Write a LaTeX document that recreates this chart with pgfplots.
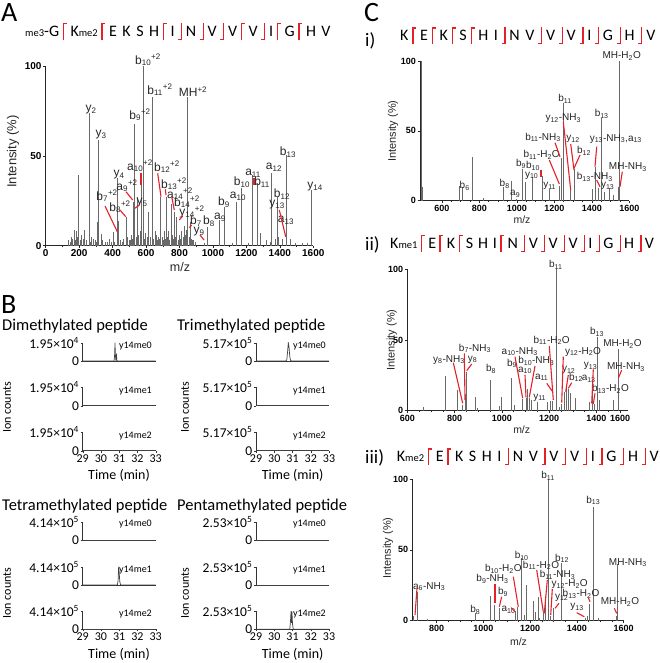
\documentclass[border=0pt]{standalone}
\usepackage{fontspec}
\setmainfont{Liberation Sans}
\newfontfamily\carlito{Carlito}
\usepackage{pgfplots}
\pgfplotsset{compat=1.18}
\definecolor{seqred}{RGB}{228,32,40}
\definecolor{peak}{RGB}{105,105,105}
\newlength\bk \setlength\bk{3.8pt}
\newlength\gp \setlength\gp{5.5pt}
\newcommand\bL{\kern\bk\textcolor{seqred}{\rule[-3.5pt]{1.3pt}{17pt}\kern-1.3pt\rule[12.2pt]{4pt}{1.3pt}}\kern\bk}
\newcommand\bR{\kern\bk\textcolor{seqred}{\rule[-3.5pt]{4pt}{1.3pt}\kern-1.3pt\rule[-3.5pt]{1.3pt}{17pt}}\kern\bk}
\newcommand\sm[1]{{\fontsize{10.5}{10.5}\selectfont #1}}
\newcommand\gap{\hspace{\gp}}
\pgfplotsset{
 spec/.style={scale only axis, axis lines=left, axis line style={-, black!85, line width=0.6pt},
   tick align=outside, tick style={black!85, line width=0.5pt}, major tick length=2.5pt, minor tick length=1.5pt,
   ymin=0, ymax=100, ytick={0,50,100}, scaled ticks=false,
   /pgf/number format/assume math mode=true, /pgf/number format/1000 sep={},
   tick label style={font=\bfseries\fontsize{9}{9}\selectfont, inner sep=1.5pt}},
 chrom/.style={scale only axis, width=73pt, height=18.3pt, axis lines=left,
   axis line style={-, black!80, line width=0.6pt}, xmin=29, xmax=33, ymin=0, ymax=1,
   ytick={0,1}, xtick=\empty, tick align=outside, major tick length=2pt, tick style={black!80},
   yticklabel style={font=\carlito\fontsize{13.5}{13.5}\selectfont, inner sep=1.5pt},
   /pgf/number format/assume math mode=true},
 bottomrow/.style={xtick={29,30,31,32,33}, xticklabel style={font=\carlito\fontsize{12}{12}\selectfont, inner sep=1.5pt}},
 trace/.style={black!75, line width=0.7pt, mark=none},
 bars/.style={ycomb, color=peak, line width=0.6pt, mark=none}
}
\newcommand\chromaxis[5]{%
\begin{axis}[chrom, at={(#1pt,-#2pt)}, anchor=south west, yticklabels={0,{#3}}, #4]
\addplot[trace] coordinates {#5};
\end{axis}}
\begin{document}
\begin{tikzpicture}
\path[use as bounding box] (0,0) rectangle (660pt,-663pt);

% ---------------- Panel A ----------------
\begin{axis}[spec, at={(45.7pt,-245.7pt)}, anchor=south west, width=267.6pt, height=179.7pt,
  xmin=0, xmax=1600, xtick={0,200,...,1600}, minor x tick num=1,
  tick label style={font=\bfseries\fontsize{10}{10}\selectfont}]
\addplot[bars] table {
x y
135 3.2
145 2
155 5
162 4
169 8.7
175 3
181 8
188 5
195 39.3
205 3
211 6
222 4
231 8.7
245 3
259 73.7
265 2
275 5
285 4
295 3
300 2
309 13
313 58.8
331 6.6
340 3
355 2
366 2
381 4
390 2
404 7.7
412 2
428 37.5
436 14
447 3
458 2
466 4
480 16
490 5
497 3
504 3
512 6
518 4
524 24.5
532 68
540 5
548 27
556 6
564 8
574 33.8
584 100
590 4
598 7
605 5
610 3
616 19
626 5
636 82.6
645 4
655 8
660 6
668 3
674 5
680 4
688 27
697 5
701 3
707 8
713 4
719 27
727 5
733 8
740 3
749 23
756 6
762 4
769 19
775 5
783 16
790 3
797 6
804 4
813 8
820 5
827 11
833 6
839 9
845 3
849 82.6
856 5
863 13
870 4
878 3
885 3
893 2
949 1.5
967 10.6
1038 14.3
1068 21.7
1117 1.5
1138 24.5
1168 32
1209 1.5
1238 39.3
1264 34.7
1282 7
1320 3
1342 2
1351 40.3
1375 4
1382 27
1391 5
1412 4
1437 50.5
1461 4
1490 1.5
1536 1.5
1566 1.5
1591 31
};
\end{axis}

% ---------------- Panel C i ----------------
\begin{axis}[spec, at={(420pt,-200.7pt)}, anchor=south west, width=209.3pt, height=139.7pt,
  xmin=484, xmax=1600, xtick={600,800,...,1600}, minor x tick num=3]
\addplot[bars] table {
x y
490 100
497 9.5
694 10.5
708 9.5
765 31.5
822 2
929 10
973 14.3
1000 1
1032 22.7
1044 13.6
1083 16.7
1137 17.9
1174 8.4
1226 10.5
1235 30.8
1249 70
1288 8.8
1306 23
1400 8.4
1418 24
1432 9.3
1448 59
1466 6.4
1494 9.3
1515 4
1543 10
1547 100
};
\end{axis}

% ---------------- Panel C ii ----------------
\begin{axis}[spec, at={(407.3pt,-410.7pt)}, anchor=south west, width=221pt, height=141.4pt,
  xmin=600, xmax=1535, xtick={600,800,1000,1200,1400,1500},
  xticklabels={600,800,1000,1200,1400,1600},
  minor xtick={650,700,750,850,900,950,1050,1100,1150,1250,1300,1350,1450}]
\addplot[bars] table {
x y
668 2.4
762 24.3
811 14.3
834 4
844 12
851 27.4
886 9.5
896 1.7
953 21.4
990 3.6
999 9.5
1041 23.3
1052 4.3
1088 8.3
1102 9
1109 15.5
1116 9
1126 7.6
1150 6
1192 6
1206 7.1
1215 7
1229 100
1243 2.4
1253 4.8
1263 13
1274 17
1281 15.5
1288 12.4
1309 9
1369 6
1384 19
1390 4.8
1403 52
1414 7.6
1471 7.9
1492 43.3
};
\end{axis}

% ---------------- Panel C iii ----------------
\begin{axis}[spec, at={(412.3pt,-620.7pt)}, anchor=south west, width=211.2pt, height=141.7pt,
  xmin=695.5, xmax=1600, xtick={800,1000,...,1600}, minor x tick num=3]
\addplot[bars] table {
x y
700 3
717 20.5
761 1
964 5.2
1028 17.6
1047 11
1068 9.2
1135 6.8
1147 9.4
1164 44
1175 4
1185 25.2
1214 14
1221 6
1235 16.5
1241 2
1257 6
1267 17.6
1278 100
1288 3
1299 9.2
1332 41
1435 2
1447 3
1454 12
1471 80.5
1492 2
1570 3
1573 40
};
\end{axis}

% ---------------- Panel B ----------------
\chromaxis{82.7}{361}{1.95×10\textsuperscript{4}}{}{(29,0) (30.72,0) (30.75,0.35) (30.77,1) (30.79,0.3) (30.82,0.05) (30.85,0.4) (30.87,0.05) (30.9,0) (33,0)}
\chromaxis{82.7}{405.7}{1.95×10\textsuperscript{4}}{}{(29,0) (33,0)}
\chromaxis{82.7}{450.7}{1.95×10\textsuperscript{4}}{bottomrow}{(29,0) (33,0)}
\chromaxis{256}{361}{5.17×10\textsuperscript{5}}{}{(29,0) (30.64,0) (30.69,0.08) (30.73,0.5) (30.77,1) (30.81,0.75) (30.85,0.25) (30.89,0.04) (30.94,0) (33,0)}
\chromaxis{256}{405.7}{5.17×10\textsuperscript{5}}{}{(29,0) (33,0)}
\chromaxis{256}{450.7}{5.17×10\textsuperscript{5}}{bottomrow}{(29,0) (33,0)}
\chromaxis{82.7}{540}{4.14×10\textsuperscript{5}}{}{(29,0) (33,0)}
\chromaxis{82.7}{585}{4.14×10\textsuperscript{5}}{}{(29,0) (30.9,0) (30.94,0.25) (30.97,1) (31.0,0.7) (31.03,0.2) (31.07,0.02) (31.1,0) (33,0)}
\chromaxis{82.7}{629.3}{4.14×10\textsuperscript{5}}{bottomrow}{(29,0) (33,0)}
\chromaxis{256}{540}{2.53×10\textsuperscript{5}}{}{(29,0) (33,0)}
\chromaxis{256}{585}{2.53×10\textsuperscript{5}}{}{(29,0) (33,0)}
\chromaxis{256}{629.3}{2.53×10\textsuperscript{5}}{bottomrow}{(29,0) (30.85,0) (30.89,0.45) (30.92,1) (30.94,0.35) (30.97,0.97) (31.0,0.3) (31.04,0.02) (31.09,0) (33,0)}

% ---------------- Annotations ----------------
\begin{scope}[x=1pt,y=-1pt]
% panel letters
\node[anchor=base west, inner sep=0pt, font=\carlito\fontsize{28}{28}\selectfont] at (1,21.7) {A};
\node[anchor=base west, inner sep=0pt, font=\carlito\fontsize{28}{28}\selectfont] at (1,313) {B};
\node[anchor=base west, inner sep=0pt, font=\carlito\fontsize{28}{28}\selectfont] at (364,21.7) {C};
\node[anchor=base west, inner sep=0pt, font=\carlito\fontsize{19}{19}\selectfont] at (365,47) {i)};
\node[anchor=base west, inner sep=0pt, font=\carlito\fontsize{19}{19}\selectfont] at (365,250) {ii)};
\node[anchor=base west, inner sep=0pt, font=\carlito\fontsize{19}{19}\selectfont] at (365,463) {iii)};

% sequences
\node[anchor=base west, inner sep=0pt, font=\carlito\fontsize{16}{16}\selectfont] at (25,36.7)
 {\setlength\bk{3.7pt}\setlength\gp{5.5pt}\sm{me3}-G\bL K\sm{me2}\bL E\gap K\gap S\gap H\bL I\bR N\bR V\bR V\bL V\bR I\bL G\bL H\gap V};
\node[anchor=base west, inner sep=0pt, font=\carlito\fontsize{16}{16}\selectfont] at (400,41)
 {K\bL E\bL K\bL S\bL H\gap I\bR N\gap V\bR V\bR V\bR I\bR G\bR H\bR V};
\node[anchor=base west, inner sep=0pt, font=\carlito\fontsize{16}{16}\selectfont] at (390,248.3)
 {\setlength\bk{3.4pt}\setlength\gp{4.8pt}K\sm{me1}\bL E\bL K\bL S\gap H\gap I\bL N\bR V\bR V\bR V\bR I\bR G\bR H\bR V};
\node[anchor=base west, inner sep=0pt, font=\carlito\fontsize{16}{16}\selectfont] at (396.7,461.7)
 {\setlength\bk{3.8pt}\setlength\gp{5.5pt}K\sm{me2}\bL E\bL K\gap S\gap H\gap I\bR N\gap V\bR V\bR V\bR I\bR G\bR H\bR V};

% axis titles
\begin{scope}[every node/.style={inner sep=0pt, text=black!85}]
\node[rotate=90, font=\fontsize{13}{13}\selectfont] at (13,151.5) {Intensity (\%)};
\node[font=\fontsize{12.5}{12.5}\selectfont] at (180,267.5) {m/z};
\node[rotate=90, font=\fontsize{11}{11}\selectfont] at (393,131) {Intensity (\%)};
\node[font=\fontsize{10.5}{10.5}\selectfont] at (522,219.5) {m/z};
\node[rotate=90, font=\fontsize{11}{11}\selectfont] at (391.7,340) {Intensity (\%)};
\node[font=\fontsize{10.5}{10.5}\selectfont] at (521.7,430) {m/z};
\node[rotate=90, font=\fontsize{11}{11}\selectfont] at (388,548) {Intensity (\%)};
\node[font=\fontsize{10.5}{10.5}\selectfont] at (518.5,642) {m/z};
\end{scope}

% panel B texts
\begin{scope}[every node/.style={inner sep=0pt, font=\carlito\fontsize{16.5}{16.5}\selectfont}]
\node[anchor=base west] at (2,330) {Dimethylated peptide};
\node[anchor=base west] at (177,330) {Trimethylated peptide};
\node[anchor=base west] at (2,510) {Tetramethylated peptide};
\node[anchor=base west] at (177,510) {Pentamethylated peptide};
\end{scope}
\begin{scope}[every node/.style={inner sep=0pt, font=\carlito\fontsize{14}{14}\selectfont}]
\node[anchor=base] at (119,479) {Time (min)};
\node[anchor=base] at (292.6,479) {Time (min)};
\node[anchor=base] at (119,658) {Time (min)};
\node[anchor=base] at (292.6,658) {Time (min)};
\end{scope}
\begin{scope}[every node/.style={inner sep=0pt, rotate=90, font=\carlito\fontsize{12}{12}\selectfont}]
\node at (7,407.5) {Ion counts};
\node at (185,407.5) {Ion counts};
\node at (7,593) {Ion counts};
\node at (185,593) {Ion counts};
\end{scope}
\begin{scope}[every node/.style={inner sep=0pt, anchor=east, font=\carlito\fontsize{10}{10}\selectfont}]
\node at (152,346.3) {y14me0}; \node at (152,391) {y14me1}; \node at (152,436.3) {y14me2};
\node at (326,346.3) {y14me0}; \node at (326,391) {y14me1}; \node at (326,436.3) {y14me2};
\node at (152,524.3) {y14me0}; \node at (152,569.6) {y14me1}; \node at (152,614.3) {y14me2};
\node at (326,524.3) {y14me0}; \node at (326,569.6) {y14me1}; \node at (326,614.3) {y14me2};
\end{scope}

% Panel A labels
\begin{scope}[every node/.style={inner sep=0pt, text=black!85, font=\fontsize{12}{12}\selectfont}]
\node at (148,60) {b\textsubscript{10}\textsuperscript{+2}};
\node at (160,90) {b\textsubscript{11}\textsuperscript{+2}};
\node at (193,92) {MH\textsuperscript{+2}};
\node at (140,115) {b\textsubscript{9}\textsuperscript{+2}};
\node at (91,110) {y\textsubscript{2}};
\node at (101,135) {y\textsubscript{3}};
\node at (119,174.5) {y\textsubscript{4}};
\node at (140,166) {a\textsubscript{10}\textsuperscript{+2}};
\node at (167,167) {b\textsubscript{12}\textsuperscript{+2}};
\node at (174,184) {b\textsubscript{13}\textsuperscript{+2}};
\node at (180,194) {a\textsubscript{14}\textsuperscript{+2}};
\node at (187,202) {b\textsubscript{14}\textsuperscript{+2}};
\node at (192,212) {y\textsubscript{14}\textsuperscript{+2}};
\node at (127,186) {a\textsubscript{9}\textsuperscript{+2}};
\node at (107,196) {b\textsubscript{7}\textsuperscript{+2}};
\node at (120,207) {b\textsubscript{8}\textsuperscript{+2}};
\node at (142,203) {y\textsubscript{5}};
\node at (199,232) {y\textsubscript{9}};
\node at (196,221) {b\textsubscript{7}};
\node at (209,221) {b\textsubscript{8}};
\node at (220,217) {a\textsubscript{9}};
\node at (224,202) {b\textsubscript{9}};
\node at (238,196) {a\textsubscript{10}};
\node at (242,182) {b\textsubscript{10}};
\node at (253,173) {a\textsubscript{11}};
\node at (262,182) {b\textsubscript{11}};
\node at (274,167) {a\textsubscript{12}};
\node at (288,152) {b\textsubscript{13}};
\node at (282,194) {b\textsubscript{12}};
\node at (277,205) {y\textsubscript{13}};
\node at (286,220) {a\textsubscript{13}};
\node at (315,187) {y\textsubscript{14}};
\end{scope}
\begin{scope}[seqred, line width=1.1pt]
\draw (105,206)--(117.3,231.7);
\draw (120,210)--(125.7,216.7);
\draw (126,191.7)--(132.7,200);
\draw (139.3,205)--(135,208.3);
\draw (141,172.7)--(141,185);
\draw (157.7,173.3)--(161,196.7);
\draw (165.3,189.3)--(166,195);
\draw (171.7,196.7)--(174.3,210);
\draw (182.7,216)--(179.3,220);
\draw (191.7,225)--(189.3,227.7);
\draw (200,235)--(204,240);
\draw (254,178.3)--(254,185);
\draw (279.3,210)--(285.7,236.7);
\end{scope}

% Panel C labels
\begin{scope}[every node/.style={inner sep=0pt, text=black!85, font=\fontsize{10}{10}\selectfont}]
\node at (621.7,56) {MH-H\textsubscript{2}O};
\node at (565,99) {b\textsubscript{11}};
\node at (563.3,118.3) {y\textsubscript{12}-NH\textsubscript{3}};
\node at (601.7,114) {b\textsubscript{13}};
\node at (543,137.5) {b\textsubscript{11}-NH\textsubscript{3}};
\node at (573,139) {y\textsubscript{12}};
\node at (615.8,139) {y\textsubscript{13}-NH\textsubscript{3},a\textsubscript{13}};
\node at (541.7,155) {b\textsubscript{11}-H\textsubscript{2}O};
\node at (584,150.7) {b\textsubscript{12}};
\node at (533,166) {b\textsubscript{10}};
\node at (521,164) {b\textsubscript{9}};
\node at (627.8,167) {MH-NH\textsubscript{3}};
\node at (531.7,175.8) {y\textsubscript{10}};
\node at (594.8,177) {b\textsubscript{13}-NH\textsubscript{3}};
\node at (607.7,186) {y\textsubscript{13}};
\node at (549.7,186) {y\textsubscript{11}};
\node at (504.7,183.7) {b\textsubscript{8}};
\node at (464.7,186) {b\textsubscript{6}};
\node at (515.2,194) {a\textsubscript{9}};
% C ii
\node at (555.8,265) {b\textsubscript{11}};
\node at (597,332) {b\textsubscript{13}};
\node at (622.5,344) {MH-H\textsubscript{2}O};
\node at (551.7,340.5) {b\textsubscript{11}-H\textsubscript{2}O};
\node at (583,351.7) {y\textsubscript{12}-H\textsubscript{2}O};
\node at (519.7,351.7) {a\textsubscript{10}-NH\textsubscript{3}};
\node at (475,348.3) {b\textsubscript{7}-NH\textsubscript{3}};
\node at (449,360) {y\textsubscript{8}-NH\textsubscript{3}};
\node at (472.5,359.7) {y\textsubscript{8}};
\node at (536.3,360.8) {b\textsubscript{10}-NH\textsubscript{3}};
\node at (590.5,366) {y\textsubscript{13}};
\node at (626,367) {MH-NH\textsubscript{3}};
\node at (568.7,370) {y\textsubscript{12}};
\node at (525,370.5) {a\textsubscript{10}};
\node at (541.7,377.5) {a\textsubscript{11}};
\node at (491,369) {b\textsubscript{8}};
\node at (512,363.3) {b\textsubscript{9}};
\node at (576,377.5) {b\textsubscript{12}};
\node at (588.7,379) {a\textsubscript{13}};
\node at (610.5,389) {b\textsubscript{13}-H\textsubscript{2}O};
\node at (539.7,397.5) {y\textsubscript{11}};
% C iii
\node at (548,476) {b\textsubscript{11}};
\node at (593.3,500.5) {b\textsubscript{13}};
\node at (521.7,556) {b\textsubscript{10}};
\node at (562,558.5) {b\textsubscript{12}};
\node at (627.8,562.8) {MH-NH\textsubscript{3}};
\node at (503.3,568.8) {b\textsubscript{10}-H\textsubscript{2}O};
\node at (541,565.5) {b\textsubscript{11}-H\textsubscript{2}O};
\node at (557.5,575) {b\textsubscript{11}-NH\textsubscript{3}};
\node at (492.5,579) {b\textsubscript{9}-NH\textsubscript{3}};
\node at (569.7,584.5) {y\textsubscript{12}-H\textsubscript{2}O};
\node at (429.2,586.7) {a\textsubscript{6}-NH\textsubscript{3}};
\node at (503,591.7) {b\textsubscript{9}};
\node at (561.7,597.5) {y\textsubscript{12}};
\node at (581,594) {b\textsubscript{13}-H\textsubscript{2}O};
\node at (620,602) {MH-H\textsubscript{2}O};
\node at (508.5,610) {a\textsubscript{10}};
\node at (577,607) {y\textsubscript{13}};
\node at (475.3,610) {b\textsubscript{8}};
\end{scope}
\begin{scope}[seqred, line width=1.1pt]
% C i
\draw (555,142.7)--(560,156.7);
\draw (563.3,121.7)--(570.7,190);
\draw (570.7,144)--(574,170);
\draw (580,155)--(574,168.3);
\draw (549.3,160)--(559.3,184);
\draw (541,170)--(541,176.7);
\draw (596.7,146.7)--(595,166.7);
\draw (596.7,180)--(600,186.7);
\draw (622.3,171.7)--(620,186.7);
% C ii
\draw (453.3,362.7)--(462.7,403.3);
\draw (464.3,353.3)--(465,400);
\draw (471.7,364)--(466.7,370.7);
\draw (515,356.7)--(522.7,398.3);
\draw (525,375)--(526,397.3);
\draw (535,366)--(529.3,397.3);
\draw (546.7,383.3)--(552.7,391.7);
\draw (549.3,346)--(553.3,400);
\draw (563.3,356.7)--(561.7,402.7);
\draw (568.3,375)--(565.7,391.7);
\draw (571.7,382.7)--(568.3,388.3);
\draw (593.3,369.3)--(591.7,403.3);
\draw (595,393.3)--(593.3,404);
\draw (621.7,370)--(618.3,378.3);
% C iii
\draw (417,588.3)--(415,615);
\draw (495,584.3)--(495,603.3);
\draw (501.7,596.7)--(499.3,606.7);
\draw (511,607.7)--(515,611.7);
\draw (513.3,576.7)--(518.3,606.7);
\draw (536.7,570)--(543.3,611.7);
\draw (547.3,580)--(544.3,613.3);
\draw (552.3,589)--(550.7,615);
\draw (559,603.3)--(555,608.3);
\draw (576.7,612.7)--(584.3,616.7);
\draw (588.3,597.7)--(590,601.7);
\draw (614.3,608.3)--(616.7,613.3);
\end{scope}
\end{scope}
\end{tikzpicture}
\end{document}
